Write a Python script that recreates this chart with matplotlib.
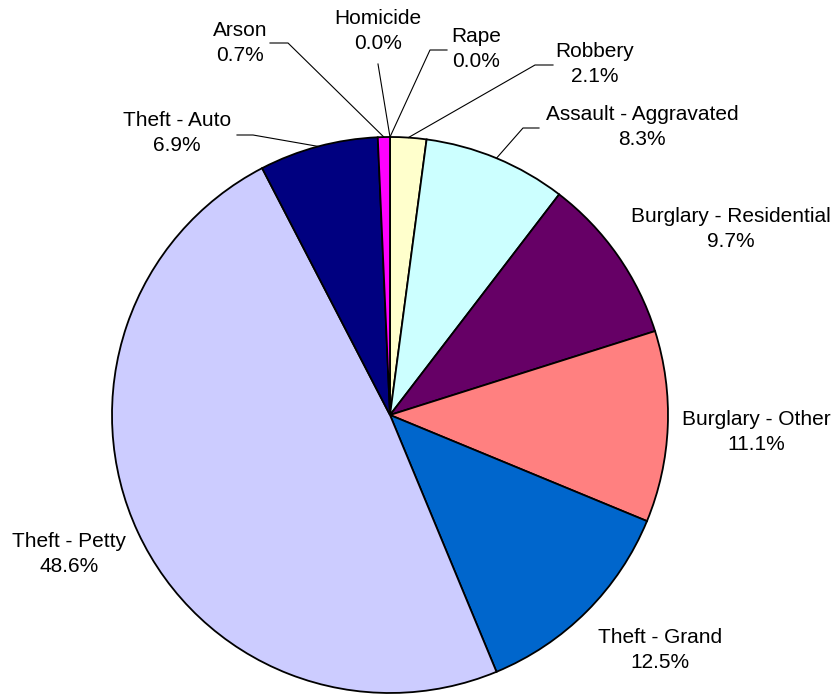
import numpy as np
import matplotlib.pyplot as plt

plt.rcParams['font.family'] = ['Liberation Sans', 'DejaVu Sans']

labels = ['Homicide', 'Rape', 'Robbery', 'Assault - Aggravated',
          'Burglary - Residential', 'Burglary - Other', 'Theft - Grand',
          'Theft - Petty', 'Theft - Auto', 'Arson']
shares = [0.0, 0.0, 2.1, 8.3, 9.7, 11.1, 12.5, 48.6, 6.9, 0.7]
colors = ['#993366', '#808000', '#FFFFCC', '#CCFFFF', '#660066', '#FF8080',
          '#0066CC', '#CCCCFF', '#000080', '#FF00FF']

W, H = 835, 694
fig = plt.figure(figsize=(W / 100, H / 100), dpi=100)
ax = fig.add_axes([0, 0, 1, 1])

cx, cy, r = 390, H - 415, 278
wedges, _ = ax.pie(shares, colors=colors, startangle=90, counterclock=False,
                   center=(cx, cy), radius=r, frame=True,
                   wedgeprops=dict(edgecolor='black', linewidth=1.3))
ax.set_xlim(0, W)
ax.set_ylim(0, H)
ax.set_aspect('equal')
ax.axis('off')

# label centres (pixels from top-left), leader elbow and leader end
label_pos = {
    'Homicide': (378, 31, (378, 64), None),
    'Rape': (476, 49, (430, 50), (447, 50)),
    'Robbery': (595, 64, (535, 65), (553, 65)),
    'Assault - Aggravated': (642, 127, (523, 128), (539, 128)),
    'Burglary - Residential': (731, 229, None, None),
    'Burglary - Other': (756, 432, None, None),
    'Theft - Grand': (660, 650, None, None),
    'Theft - Petty': (69, 554, None, None),
    'Theft - Auto': (177, 133, (253, 135), (237, 135)),
    'Arson': (240, 43, (288, 43), (270, 43)),
}

for w, lab, val in zip(wedges, labels, shares):
    tx, ty, elbow, end = label_pos[lab]
    ax.text(tx, H - ty, f'{lab}\n{val:.1f}%', ha='center', va='center',
            fontsize=15, linespacing=1.4)
    if elbow is not None:
        mid = np.deg2rad((w.theta1 + w.theta2) / 2)
        px, py = cx + r * np.cos(mid), cy + r * np.sin(mid)
        xs = [px, elbow[0]]
        ys = [py, H - elbow[1]]
        if end is not None:
            xs.append(end[0])
            ys.append(H - end[1])
        ax.plot(xs, ys, color='black', linewidth=0.8)

fig.savefig('out.png', dpi=100)
